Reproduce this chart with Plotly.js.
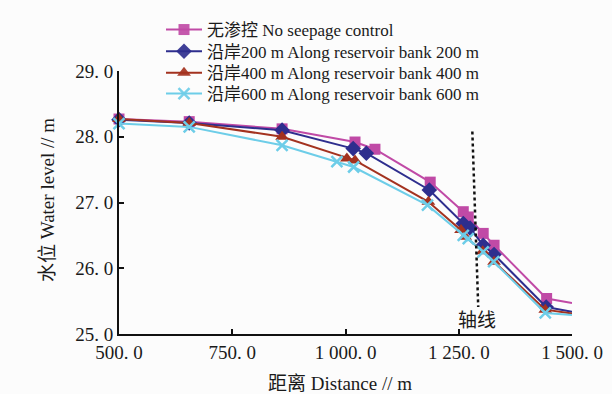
<!DOCTYPE html>
<html>
<head>
<meta charset="utf-8">
<script src="https://cdn.plot.ly/plotly-3.0.1.min.js"></script>
<style>html,body{margin:0;padding:0;background:#fcfcfc;}</style>
</head>
<body>
<div id="chart" style="width:612px;height:394px;"></div>
<script>
// Series names
const seriesNames = [
  "无渗控 No seepage control",
  "沿岸200 m Along reservoir bank 200 m",
  "沿岸400 m Along reservoir bank 400 m",
  "沿岸600 m Along reservoir bank 600 m"
];
// Distance (m) and water level (m) per series
const xNo  = [500, 655, 860, 1021, 1065, 1187, 1260, 1271, 1304, 1328, 1444, 1500];
const yNo  = [28.27, 28.23, 28.12, 27.92, 27.81, 27.31, 26.86, 26.78, 26.53, 26.35, 25.54, 25.47];
const x200 = [500, 655, 860, 1017, 1046, 1185, 1260, 1275, 1304, 1328, 1443, 1500];
const y200 = [28.26, 28.21, 28.10, 27.82, 27.75, 27.19, 26.68, 26.61, 26.35, 26.21, 25.41, 25.34];
const x400 = [500, 655, 860, 1003, 1021, 1183, 1255, 1264, 1303, 1328, 1441, 1500];
const y400 = [28.27, 28.21, 28.00, 27.67, 27.64, 27.01, 26.58, 26.48, 26.26, 26.10, 25.37, 25.31];
const x600 = [500, 655, 860, 981, 1018, 1181, 1260, 1271, 1304, 1327, 1441, 1500];
const y600 = [28.20, 28.15, 27.87, 27.62, 27.54, 26.96, 26.50, 26.45, 26.25, 26.10, 25.32, 25.29];

// Ticks
const xTickVals = [500, 750, 1000, 1250, 1500];
const xTickText = ["500. 0", "750. 0", "1 000. 0", "1 250. 0", "1 500. 0"];
const yTickVals = [25, 26, 27, 28, 29];
const yTickText = ["25. 0", "26. 0", "27. 0", "28. 0", "29. 0"];

// Titles
const xTitle = "距离 Distance // m";
const yTitle = "水位 Water level // m";

// Axis line (轴线) marker
const axisLineX = [1280, 1293];
const axisLineY = [28.08, 25.41];
const axisLabel = "轴线";

const FONT = '"Liberation Serif", "Noto Sans CJK SC", serif';
const TXT = '#1a1a1a';
const colors = ['#C04AA6', '#2E2E8E', '#A3321F', '#6DCDE8'];
const symbols = ['square', 'diamond', 'triangle-up', 'x-thin-open'];
const sizes = [11, 12, 12, 11];
const legendIds = ['legend', 'legend2', 'legend3', 'legend4'];
const legendRowY = [30, 51.7, 73.3, 94];

const xs = [xNo, x200, x400, x600];
const ys = [yNo, y200, y400, y600];

const traces = xs.map((x, i) => ({
  type: 'scatter',
  mode: 'lines+markers',
  name: seriesNames[i],
  legend: legendIds[i],
  x: x,
  y: ys[i],
  line: {color: colors[i], width: 2},
  marker: {
    symbol: symbols[i],
    size: sizes[i],
    color: colors[i],
    line: {color: colors[i], width: i === 3 ? 2.5 : 0},
    opacity: x.map((v, k) => k === x.length - 1 ? 0 : 1)
  },
  cliponaxis: false
}));

const layout = {
  width: 612, height: 394,
  paper_bgcolor: '#fcfcfc',
  plot_bgcolor: '#fcfcfc',
  margin: {l: 119, r: 40, t: 71, b: 60, autoexpand: false},
  font: {family: FONT, color: TXT, size: 19},
  showlegend: true,
  xaxis: {
    range: [500, 1500],
    tickvals: xTickVals, ticktext: xTickText, tickangle: 0,
    showline: true, linecolor: '#111', linewidth: 2,
    ticks: 'inside', ticklen: 5, tickwidth: 2, tickcolor: '#111',
    showgrid: false, zeroline: false, automargin: false,
    tickfont: {family: FONT, size: 19, color: TXT}
  },
  yaxis: {
    range: [25, 29],
    tickvals: yTickVals, ticktext: yTickText,
    showline: true, linecolor: '#111', linewidth: 2,
    ticks: 'inside', ticklen: 5, tickwidth: 2, tickcolor: '#111',
    showgrid: false, zeroline: false, automargin: false,
    tickfont: {family: FONT, size: 19, color: TXT}
  },
  shapes: [{
    type: 'line', xref: 'x', yref: 'y',
    x0: axisLineX[0], y0: axisLineY[0], x1: axisLineX[1], y1: axisLineY[1],
    line: {color: '#111', width: 2.5, dash: 'dot'}
  }],
  annotations: [
    {xref: 'x', yref: 'y', x: 1290, y: 25.21, text: axisLabel, showarrow: false,
     xanchor: 'center', yanchor: 'middle',
     font: {family: FONT, size: 19, color: TXT}},
    {xref: 'paper', yref: 'paper', x: (340 - 119) / 453, y: (334 - 383) / 263,
     xanchor: 'center', yanchor: 'middle',
     text: xTitle, showarrow: false, font: {family: FONT, size: 19, color: TXT}},
    {xref: 'paper', yref: 'paper', x: (47 - 119) / 453, y: (334 - 200) / 263,
     xanchor: 'center', yanchor: 'middle',
     text: yTitle, showarrow: false, textangle: -90, font: {family: FONT, size: 19, color: TXT}}
  ]
};

legendIds.forEach((id, i) => {
  layout[id] = {
    xref: 'container', yref: 'container',
    x: 161 / 612, y: 1 - legendRowY[i] / 394,
    xanchor: 'left', yanchor: 'middle',
    bgcolor: 'rgba(0,0,0,0)',
    font: {family: FONT, size: 17, color: TXT},
    itemwidth: 36
  };
});

Plotly.newPlot('chart', traces, layout, {displayModeBar: false, staticPlot: true});
</script>
</body>
</html>
